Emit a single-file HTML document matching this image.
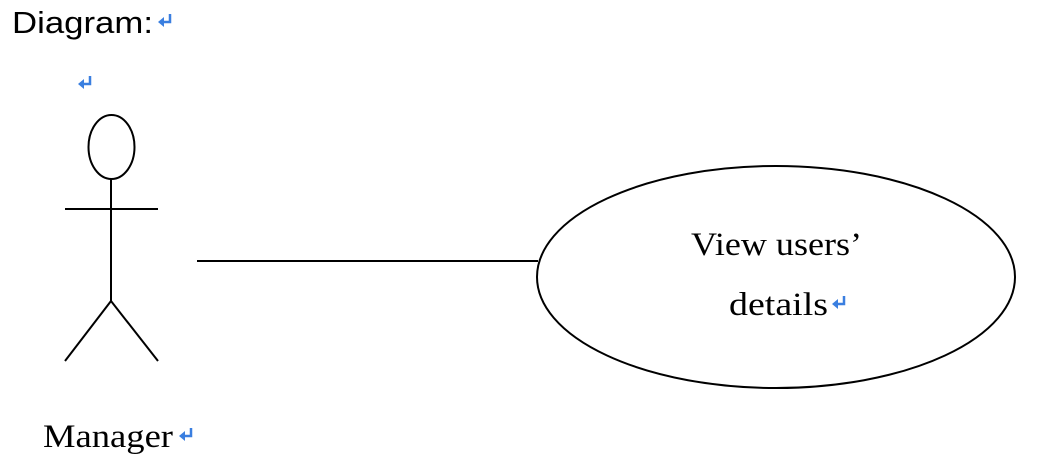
<!DOCTYPE html>
<html><head><meta charset="utf-8"><style>
html,body{margin:0;padding:0;background:#fff;width:1038px;height:474px;overflow:hidden}
</style></head><body>
<svg width="1038" height="474" viewBox="0 0 1038 474" xmlns="http://www.w3.org/2000/svg">
<defs>
<g id="ret"><path d="M12 0 V8 H3" fill="none" stroke="#3a7fe0" stroke-width="2.5"/><path d="M0 8 L6 3 L6 13 Z" fill="#3a7fe0"/></g>
</defs>
<text x="12" y="33" font-family="Liberation Sans, sans-serif" font-size="31" textLength="141" lengthAdjust="spacingAndGlyphs" fill="#000">Diagram:</text>
<use href="#ret" x="158" y="14"/>
<use href="#ret" x="78" y="76"/>
<g stroke="#000" stroke-width="2" fill="none">
<ellipse cx="111.5" cy="147" rx="23" ry="32"/>
<line x1="65" y1="209" x2="158" y2="209"/>
<line x1="111" y1="179" x2="111" y2="301"/>
<line x1="111" y1="301" x2="65" y2="361"/>
<line x1="111" y1="301" x2="158" y2="361"/>
<line x1="197" y1="261" x2="538" y2="261"/>
<ellipse cx="776" cy="277" rx="239" ry="111"/>
</g>
<text x="691" y="255" font-family="Liberation Serif, serif" font-size="33" textLength="171" lengthAdjust="spacingAndGlyphs" fill="#000">View users’</text>
<text x="729" y="315" font-family="Liberation Serif, serif" font-size="33" textLength="99" lengthAdjust="spacingAndGlyphs" fill="#000">details</text>
<use href="#ret" x="832" y="296"/>
<text x="43" y="447" font-family="Liberation Serif, serif" font-size="33" textLength="130" lengthAdjust="spacingAndGlyphs" fill="#000">Manager</text>
<use href="#ret" x="179" y="428"/>
</svg>
</body></html>
